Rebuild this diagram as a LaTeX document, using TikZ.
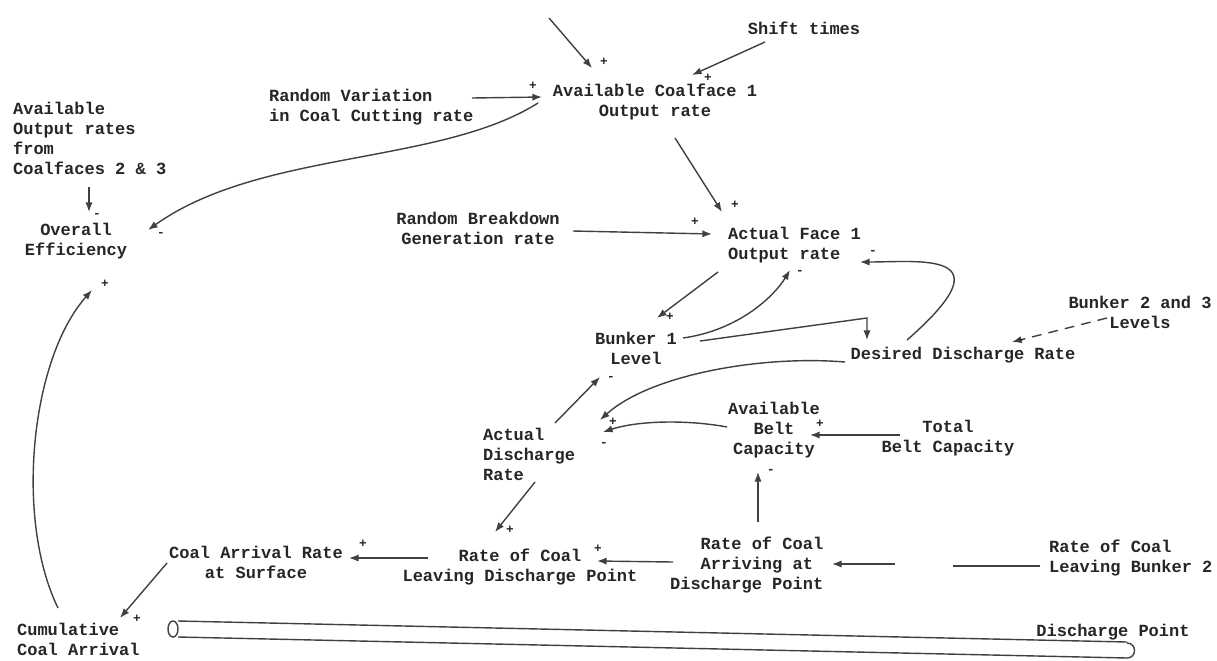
\documentclass[tikz,border=0pt]{standalone}
\usepackage{fontspec}
\setmonofont{Liberation Mono}
\usepackage{tikz}
\usetikzlibrary{arrows.meta,calc,positioning}

\tikzset{
    var/.style={font=\ttfamily\bfseries\fontsize{12.1}{14.2}\selectfont, text=black!85, inner sep=2pt, align=center},
    varl/.style={var, align=left},
    link/.style={draw=black!75, line width=1pt, -{Latex[length=2.4mm,width=1.8mm]}},
    plain/.style={draw=black!75, line width=1pt},
    sgn/.style={font=\ttfamily\bfseries\fontsize{9}{9}\selectfont, text=black!85, inner sep=0pt},
}

\begin{document}
\begin{tikzpicture}[x=0.025cm, y=-0.025cm]
    \useasboundingbox (0,0) rectangle (1217,660);

    % variables
    \node[var] (avail1) at (655,102) {Available Coalface 1\\Output rate};
    \node[var] (shift) at (804,28) {Shift times};
    \node[varl, anchor=west] (randvar) at (266,107) {Random Variation\\in Coal Cutting rate};
    \node[varl, anchor=west] (avail23) at (10,138) {Available\\Output rates\\from\\Coalfaces 2 \& 3};
    \node[var] (overall) at (76,241) {Overall\\Efficiency};
    \node[var] (breakdown) at (478,228) {Random Breakdown\\Generation rate};
    \node[varl, anchor=west] (actual1) at (725,245) {Actual Face 1\\Output rate};
    \node[var] (bunker1) at (636,348) {Bunker 1\\Level};
    \node[var] (desired) at (963,355) {Desired Discharge Rate};
    \node[var] (bunker23) at (1140,312) {Bunker 2 and 3\\Levels};
    \node[var] (availbelt) at (774,430) {Available\\Belt\\Capacity};
    \node[var] (totalbelt) at (948,438) {Total\\Belt Capacity};
    \node[varl, anchor=west] (actualdis) at (480,454) {Actual\\Discharge\\Rate};
    \node[var] (leavedis) at (520,567) {Rate of Coal\\Leaving Discharge Point};
    \node[varl, anchor=west] (arriving) at (667,565) {\phantom{xxx}Rate of Coal\\\phantom{xxx}Arriving at\\Discharge Point};
    \node[varl, anchor=west] (leavebunker2) at (1046,558) {Rate of Coal\\Leaving Bunker 2};
    \node[var] (arrival) at (256,562) {Coal Arrival Rate\\at Surface};
    \node[varl, anchor=west] (cumul) at (14,639) {Cumulative\\Coal Arrival};
    \node[var] (dispoint) at (1113,632) {Discharge Point};

    \coordinate (topin) at (549,18);
    \coordinate (gapR) at (953,566);
    \coordinate (gapL) at (895,564);

    % links
    \draw[link] (topin) -- ($(avail1)+(-63,-34)$);
    \draw[link] ($(shift)+(-39,14)$) -- ($(avail1)+(37,-27)$);
    \draw[link] ($(randvar.west)+(206,-9)$) -- ($(avail1)+(-113,-5)$);
    \draw[link] ($(avail1)+(-117,1)$) .. controls (440,165) and (260,150) .. ($(overall)+(72,-11)$);
    \draw[link] ($(avail23.west)+(79,49)$) -- ($(overall)+(13,-29)$);
    \draw[link] ($(avail1)+(20,36)$) -- ($(actual1.west)+(-3,-33)$);
    \draw[link] ($(breakdown)+(95,3)$) -- ($(actual1.west)+(-13,-11)$);
    \draw[link] ($(actual1.west)+(-7,27)$) -- ($(bunker1)+(21,-30)$);
    \draw[link] ($(bunker1)+(47,-10)$) .. controls (740,330) and (775,295) .. ($(actual1.west)+(65,25)$);
    \draw[link] ($(bunker1)+(64,-7)$) -- ($(desired)+(-96,-37)$) -- ($(desired)+(-96,-15)$);
    \draw[link] ($(desired)+(-56,-15)$) .. controls (1010,250) and (920,262) .. ($(actual1.west)+(135,17)$);
    \draw[link, dash pattern=on 7pt off 5pt] ($(bunker23)+(-33,6)$) -- ($(desired)+(49,-13)$);
    \draw[link] ($(desired)+(-118,7)$) .. controls (760,355) and (650,375) .. ($(actualdis.west)+(120,-34)$);
    \draw[link] ($(availbelt)+(-47,-3)$) .. controls (690,420) and (640,420) .. ($(actualdis.west)+(123,-22)$);
    \draw[link] ($(actualdis.west)+(75,-31)$) -- ($(bunker1)+(-36,29)$);
    \draw[link] ($(totalbelt)+(-48,-3)$) -- ($(availbelt)+(36,5)$);
    \draw[link] ($(arriving.west)+(91,-43)$) -- ($(availbelt)+(-16,42)$);
    \draw[link] ($(actualdis.west)+(55,28)$) -- ($(leavedis)+(-25,-35)$);
    \draw[link] ($(arriving.west)+(6,-3)$) -- ($(leavedis)+(77,-6)$);
    \draw[plain] ($(leavebunker2.west)+(-6,8)$) -- (gapR);
    \draw[link] (gapL) -- ($(arriving.west)+(165,-1)$);
    \draw[link] ($(leavedis)+(-92,-9)$) -- ($(arrival)+(93,-4)$);
    \draw[link] ($(arrival)+(-89,1)$) -- ($(cumul.west)+(106,-21)$);
    \draw[link] ($(cumul.west)+(44,-31)$) .. controls (15,520) and (30,360) .. ($(overall)+(16,49)$);

    % polarities
    \node[sgn] (p1) at (604,62) {+};
    \node[sgn] (p2) at (708,78) {+};
    \node[sgn] (p3) at (533,86) {+};
    \node[sgn] (p4) at (161,234) {-};
    \node[sgn] (p5) at (97,215) {-};
    \node[sgn] (p6) at (735,205) {+};
    \node[sgn] (p7) at (695,222) {+};
    \node[sgn] (p8) at (670,317) {+};
    \node[sgn] (p9) at (800,272) {-};
    \node[sgn] (p10) at (873,252) {-};
    \node[sgn] (p11) at (1021,341) {-};
    \node[sgn] (p12) at (613,422) {+};
    \node[sgn] (p13) at (604,444) {-};
    \node[sgn] (p14) at (611,378) {-};
    \node[sgn] (p15) at (820,424) {+};
    \node[sgn] (p16) at (771,471) {-};
    \node[sgn] (p17) at (510,530) {+};
    \node[sgn] (p18) at (598,549) {+};
    \node[sgn] (p19) at (363,544) {+};
    \node[sgn] (p20) at (137,619) {+};
    \node[sgn] (p21) at (105,284) {+};

    % conveyor belt
    \draw[plain] (178,621) -- (1127,642);
    \draw[plain] (178,637) -- (1127,658);
    \draw[plain] (173,629) ellipse [x radius=5, y radius=8];
    \draw[plain] (1127,643) .. controls (1137,643) and (1137,658) .. (1127,658);
\end{tikzpicture}
\end{document}
